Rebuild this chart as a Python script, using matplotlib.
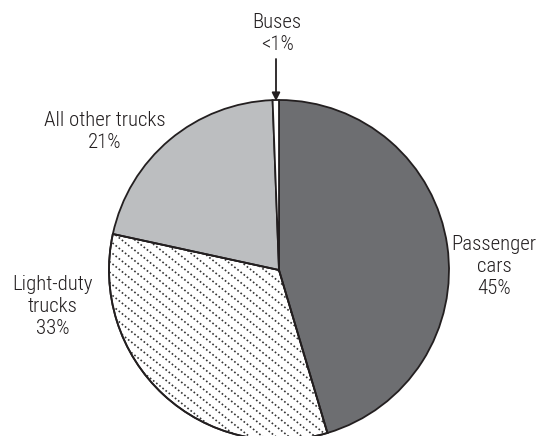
import numpy as np
import matplotlib
matplotlib.use("Agg")
import matplotlib.pyplot as plt
from matplotlib.patches import Wedge

# data (clockwise from 12 o'clock)
categories = ["Passenger cars", "Light-duty trucks", "All other trucks", "Buses"]
shares = [45.4, 33.0, 21.0, 0.6]
labels = ["Passenger\ncars\n45%", "Light-duty\ntrucks\n33%", "All other trucks\n21%", "Buses\n<1%"]
colors = ["#6d6e71", "#ffffff", "#bcbec0", "#ffffff"]

W, H = 542, 436
plt.rcParams['font.family'] = ['Roboto Condensed', 'DejaVu Sans']

fig = plt.figure(figsize=(W / 100, H / 100), dpi=100)
ax = fig.add_axes([0, 0, 1, 1])

cx, cy, r = 279, H - 270, 170
wedges, _ = ax.pie(shares, colors=colors, startangle=90, counterclock=False,
                   center=(cx, cy), radius=r,
                   wedgeprops=dict(edgecolor="#231f20", linewidth=1.3))
ax.set_xlim(0, W)
ax.set_ylim(0, H)
ax.set_aspect("equal")
ax.axis("off")

# dotted diagonal hatch on the light-duty slice
hw = wedges[1]
xs = np.array([0, W])
slope = -0.8
for c in np.arange(-200, H + 600, 10.5):
    ln, = ax.plot(xs, slope * xs + c, color="#333333", lw=1.2,
                  linestyle=(0, (1, 1.4)), zorder=1.5)
    ln.set_clip_path(hw)
hw.set_zorder(1)
for w in (wedges[0], wedges[2], wedges[3]):
    w.set_zorder(2)
# redraw edge of hatched slice on top
edge = Wedge((cx, cy), r, hw.theta1, hw.theta2, fill=False,
             edgecolor="#231f20", linewidth=1.3, zorder=3)
ax.add_patch(edge)

txt = dict(color="#231f20", fontsize=15, fontweight="light", ha="center",
           va="center", linespacing=1.2)
ax.text(494, H - 266, labels[0], **txt)
ax.text(53, H - 307, labels[1], **txt)
ax.text(105, H - 131, labels[2], **txt)
ax.text(277, H - 34, labels[3], **txt)

ax.annotate("", xy=(276, H - 101), xytext=(276, H - 59),
            arrowprops=dict(arrowstyle="-|>", color="#231f20", lw=1.3,
                            mutation_scale=12, shrinkA=0, shrinkB=0))

fig.savefig("out.png", dpi=100)
